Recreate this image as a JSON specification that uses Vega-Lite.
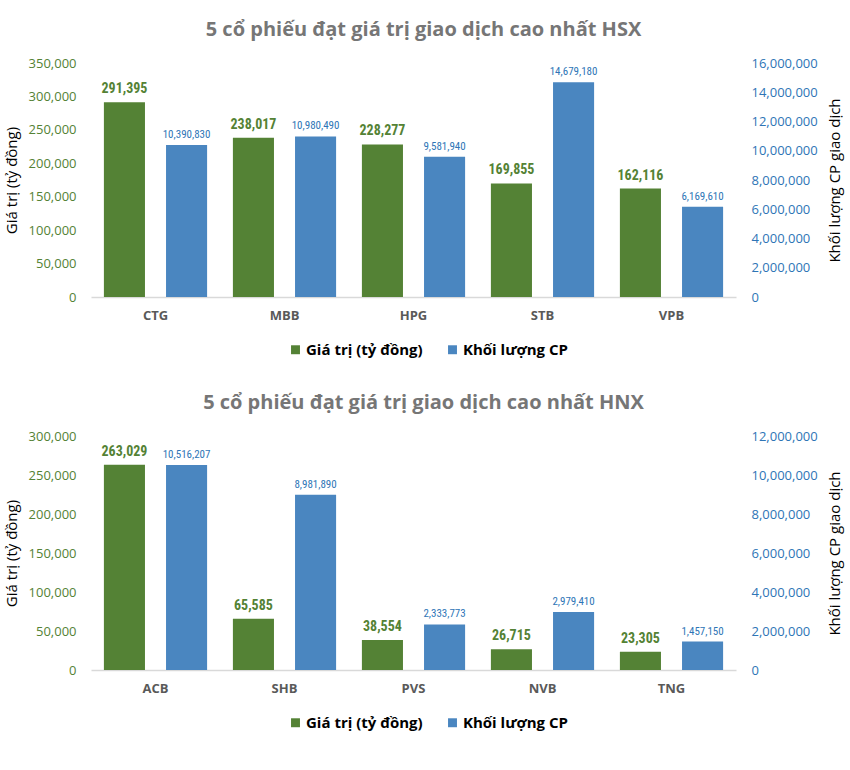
{
  "$schema": "https://vega.github.io/schema/vega-lite/v6.json",
  "background": "white",
  "padding": {"left": 4, "top": 20, "right": 5, "bottom": 5},
  "config": {"view": {"stroke": null}, "font": "Open Sans", "concat": {"spacing": 35}},
  "datasets": {
    "hsx": [
      {"ma": "CTG", "series": "Giá trị (tỷ đồng)", "v": 291395},
      {"ma": "MBB", "series": "Giá trị (tỷ đồng)", "v": 238017},
      {"ma": "HPG", "series": "Giá trị (tỷ đồng)", "v": 228277},
      {"ma": "STB", "series": "Giá trị (tỷ đồng)", "v": 169855},
      {"ma": "VPB", "series": "Giá trị (tỷ đồng)", "v": 162116},
      {"ma": "CTG", "series": "Khối lượng CP", "v": 10390830},
      {"ma": "MBB", "series": "Khối lượng CP", "v": 10980490},
      {"ma": "HPG", "series": "Khối lượng CP", "v": 9581940},
      {"ma": "STB", "series": "Khối lượng CP", "v": 14679180},
      {"ma": "VPB", "series": "Khối lượng CP", "v": 6169610}
    ],
    "hnx": [
      {"ma": "ACB", "series": "Giá trị (tỷ đồng)", "v": 263029},
      {"ma": "SHB", "series": "Giá trị (tỷ đồng)", "v": 65585},
      {"ma": "PVS", "series": "Giá trị (tỷ đồng)", "v": 38554},
      {"ma": "NVB", "series": "Giá trị (tỷ đồng)", "v": 26715},
      {"ma": "TNG", "series": "Giá trị (tỷ đồng)", "v": 23305},
      {"ma": "ACB", "series": "Khối lượng CP", "v": 10516207},
      {"ma": "SHB", "series": "Khối lượng CP", "v": 8981890},
      {"ma": "PVS", "series": "Khối lượng CP", "v": 2333773},
      {"ma": "NVB", "series": "Khối lượng CP", "v": 2979410},
      {"ma": "TNG", "series": "Khối lượng CP", "v": 1457150}
    ]
  },
  "vconcat": [
    {
      "data": {"name": "hsx"},
      "width": 645,
      "height": 234,
      "title": {"text": "5 cổ phiếu đạt giá trị giao dịch cao nhất HSX", "fontSize": 20, "fontWeight": "bold", "color": "#767676", "font": "Open Sans", "offset": 17, "anchor": "middle", "dx": 10},
      "encoding": {
        "x": {"field": "ma", "type": "nominal", "sort": null, "scale": {"paddingInner": 0.2, "paddingOuter": 0.1},
          "axis": {"title": null, "labelAngle": 0, "ticks": false, "domainColor": "#d9d9d9", "domainWidth": 1.5, "labelFontWeight": "bold", "labelColor": "#595959", "labelFontSize": 13, "labelPadding": 12}},
        "xOffset": {"field": "series", "type": "nominal", "scale": {"domain": ["Giá trị (tỷ đồng)", "Khối lượng CP"], "paddingInner": 0.339, "paddingOuter": 0}},
        "color": {"field": "series", "type": "nominal", "scale": {"domain": ["Giá trị (tỷ đồng)", "Khối lượng CP"], "range": ["#548235", "#4a86c0"]},
          "legend": {"orient": "none", "legendX": 197, "legendY": 279, "direction": "horizontal", "title": null, "symbolType": "square", "symbolSize": 80, "labelFontSize": 15, "labelFontWeight": "bold", "labelColor": "#000000", "columnPadding": 22, "labelOffset": 3}}
      },
      "layer": [
        {
          "transform": [{"filter": {"field": "series", "equal": "Giá trị (tỷ đồng)"}}],
          "encoding": {
            "y": {"field": "v", "type": "quantitative", "title": "Giá trị (tỷ đồng)", "scale": {"domain": [0, 350000], "nice": false},
              "axis": {"orient": "left", "domain": false, "ticks": false, "grid": false, "tickCount": 7, "format": ",d", "labelColor": "#548235", "labelFontSize": 13, "labelPadding": 15, "titleColor": "#000000", "titleFontWeight": "normal", "titleFontSize": 15, "titlePadding": 9}}
          },
          "layer": [
            {"mark": {"type": "bar"}},
            {"mark": {"type": "text", "baseline": "bottom", "dy": -6, "fontSize": 14, "fontWeight": "bold", "font": "Liberation Sans Narrow, Roboto Condensed, Arial Narrow, sans-serif"},
              "encoding": {"text": {"field": "v", "type": "quantitative", "format": ",d"}, "color": {"value": "#548235"}}}
          ]
        },
        {
          "transform": [{"filter": {"field": "series", "equal": "Khối lượng CP"}}],
          "encoding": {
            "y": {"field": "v", "type": "quantitative", "title": "Khối lượng CP giao dịch", "scale": {"domain": [0, 16000000], "nice": false},
              "axis": {"orient": "right", "domain": false, "ticks": false, "grid": false, "tickCount": 8, "format": ",d", "labelColor": "#2e75b6", "labelFontSize": 13, "labelPadding": 15, "titleColor": "#000000", "titleFontWeight": "normal", "titleFontSize": 15, "titlePadding": 10, "titleAngle": 270, "titleBaseline": "top"}}
          },
          "layer": [
            {"mark": {"type": "bar"}},
            {"mark": {"type": "text", "baseline": "bottom", "dy": -5, "fontSize": 11, "font": "Liberation Sans Narrow, Roboto Condensed, Arial Narrow, sans-serif"},
              "encoding": {"text": {"field": "v", "type": "quantitative", "format": ",d"}, "color": {"value": "#2e75b6"}}}
          ]
        }
      ],
      "resolve": {"scale": {"y": "independent"}}
    },
    {
      "data": {"name": "hnx"},
      "width": 645,
      "height": 234,
      "title": {"text": "5 cổ phiếu đạt giá trị giao dịch cao nhất HNX", "fontSize": 20, "fontWeight": "bold", "color": "#767676", "font": "Open Sans", "offset": 17, "anchor": "middle", "dx": 10},
      "encoding": {
        "x": {"field": "ma", "type": "nominal", "sort": null, "scale": {"paddingInner": 0.2, "paddingOuter": 0.1},
          "axis": {"title": null, "labelAngle": 0, "ticks": false, "domainColor": "#d9d9d9", "domainWidth": 1.5, "labelFontWeight": "bold", "labelColor": "#595959", "labelFontSize": 13, "labelPadding": 12}},
        "xOffset": {"field": "series", "type": "nominal", "scale": {"domain": ["Giá trị (tỷ đồng)", "Khối lượng CP"], "paddingInner": 0.339, "paddingOuter": 0}},
        "color": {"field": "series", "type": "nominal", "scale": {"domain": ["Giá trị (tỷ đồng)", "Khối lượng CP"], "range": ["#548235", "#4a86c0"]},
          "legend": {"orient": "none", "legendX": 197, "legendY": 279, "direction": "horizontal", "title": null, "symbolType": "square", "symbolSize": 80, "labelFontSize": 15, "labelFontWeight": "bold", "labelColor": "#000000", "columnPadding": 22, "labelOffset": 3}}
      },
      "layer": [
        {
          "transform": [{"filter": {"field": "series", "equal": "Giá trị (tỷ đồng)"}}],
          "encoding": {
            "y": {"field": "v", "type": "quantitative", "title": "Giá trị (tỷ đồng)", "scale": {"domain": [0, 300000], "nice": false},
              "axis": {"orient": "left", "domain": false, "ticks": false, "grid": false, "tickCount": 6, "format": ",d", "labelColor": "#548235", "labelFontSize": 13, "labelPadding": 15, "titleColor": "#000000", "titleFontWeight": "normal", "titleFontSize": 15, "titlePadding": 9}}
          },
          "layer": [
            {"mark": {"type": "bar"}},
            {"mark": {"type": "text", "baseline": "bottom", "dy": -6, "fontSize": 14, "fontWeight": "bold", "font": "Liberation Sans Narrow, Roboto Condensed, Arial Narrow, sans-serif"},
              "encoding": {"text": {"field": "v", "type": "quantitative", "format": ",d"}, "color": {"value": "#548235"}}}
          ]
        },
        {
          "transform": [{"filter": {"field": "series", "equal": "Khối lượng CP"}}],
          "encoding": {
            "y": {"field": "v", "type": "quantitative", "title": "Khối lượng CP giao dịch", "scale": {"domain": [0, 12000000], "nice": false},
              "axis": {"orient": "right", "domain": false, "ticks": false, "grid": false, "tickCount": 6, "format": ",d", "labelColor": "#2e75b6", "labelFontSize": 13, "labelPadding": 15, "titleColor": "#000000", "titleFontWeight": "normal", "titleFontSize": 15, "titlePadding": 10, "titleAngle": 270, "titleBaseline": "top"}}
          },
          "layer": [
            {"mark": {"type": "bar"}},
            {"mark": {"type": "text", "baseline": "bottom", "dy": -5, "fontSize": 11, "font": "Liberation Sans Narrow, Roboto Condensed, Arial Narrow, sans-serif"},
              "encoding": {"text": {"field": "v", "type": "quantitative", "format": ",d"}, "color": {"value": "#2e75b6"}}}
          ]
        }
      ],
      "resolve": {"scale": {"y": "independent"}}
    }
  ],
  "resolve": {"scale": {"color": "independent"}}
}
